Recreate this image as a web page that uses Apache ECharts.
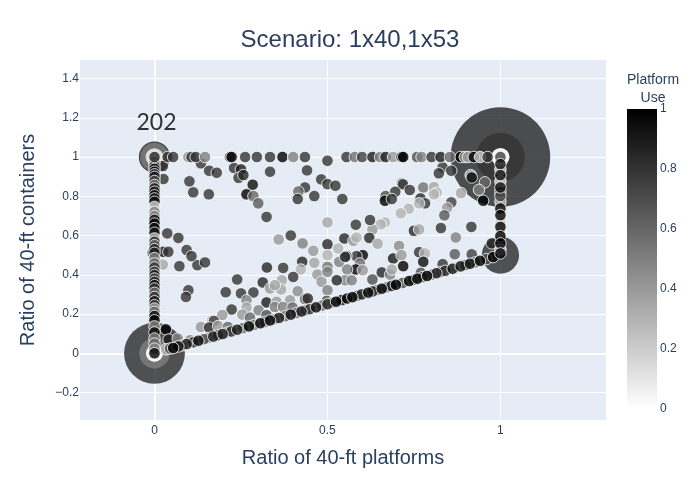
<!DOCTYPE html>
<html><head><meta charset="utf-8">
<style>html,body{margin:0;padding:0;background:#fff}#c{width:700px;height:500px}</style>
<script src="https://cdn.jsdelivr.net/npm/echarts@6/dist/echarts.min.js"></script>
</head><body><div id="c"></div>
<script>
const chartTitle = 'Scenario: 1x40,1x53';
const xTitle = 'Ratio of 40-ft platforms';
const yTitle = 'Ratio of 40-ft containers';
const colorTitle = 'Platform\nUse';
const annotationText = '202';
const xTicks = [0, 0.5, 1];
const yTicks = [-0.2, 0, 0.2, 0.4, 0.6, 0.8, 1, 1.2, 1.4];
// x, y, use, number of coinciding records
const bubbles = [
 [1,1,0.86,75],[1,1,0.8,18],[0,0,0.84,28],[0,0,0.5,7],[1,0.5,0.84,10.5],[0,1,0.9,7.4],[0,1,0.5,6.2],
 [1,1,0,2.5],[1,1,0,2.4],[0,0,0,2.2],[0,0,0,2.1],[0,1,0.03,2.4]
];
// x, y, use
const topEdge = [
 [0.038,1,0.8],[0.054,1,0.8],[0.098,1,0.45],[0.107,1,0.8],[0.119,1,0.8],[0.146,1,0.5],[0.218,1,0.75],[0.223,1,1],
 [0.262,1,0.8],[0.296,1,0.8],[0.334,1,0.8],[0.37,1,1],[0.401,1,0.5],[0.435,1,0.8],[0.555,1,0.8],[0.579,1,0.55],
 [0.6,1,0.75],[0.63,1,0.9],[0.652,1,0.5],[0.668,1,0.9],[0.69,1,0.4],[0.714,1,0.9],[0.719,1,1],[0.759,1,0.7],
 [0.772,1,0.5],[0.801,1,0.8],[0.827,1,0.9],[0.854,1,0.6],[0.885,1,1],[0.897,1,0.4],[0.906,1,0.4],[0.923,1,1],
 [0.941,1,0.2],[0.963,1,0.8]
];
const leftEdge = [
 [0,0.975,0.5],[0,0.954,0.9],[0,0.94,0.95],[0,0.925,0.95],[0,0.912,0.8],[0,0.899,0.9],[0,0.878,0.7],[0,0.857,0.6],[0,0.84,0.9],[0,0.823,0.9],[0,0.805,0.95],[0,0.789,0.9],[0,0.772,0.95],[0,0.746,0.2],
 [0,0.72,0.5],[0,0.699,0.5],[0,0.68,0.95],[0,0.661,1],[0,0.638,0.95],[0,0.614,0.95],[0,0.585,0.3],[0,0.568,0.85],[0,0.551,0.6],[-0.005,0.512,0.9],[0,0.53,0.9],[0,0.512,0.85],[0,0.485,0.5],[0,0.458,0.6],[0,0.437,0.8],[0,0.415,0.75],
 [0,0.398,0.9],[0,0.381,0.7],[0,0.364,0.85],[0,0.347,0.95],[0,0.33,0.8],[0,0.308,0.6],[0,0.287,0.8],[0,0.265,0.9],[0,0.245,0.8],[0,0.228,0.4],[0,0.211,0.6],[0,0.19,0.95],[0,0.168,1],[0,0.137,0.5],[0,0.106,1],
 [0,0.075,0.5],[0,0.049,0.6],[0,0.024,0.5],[0,0,1],[0,1,0.85]
];
const rightEdge = [
 [1,0.936,0.15],[1,0.876,0.15],[1,0.772,0.3],[1,0.665,0.2],[1,0.62,0.15],[1,0.53,0.2],
 [1,0.823,0.7],[1,0.801,0.75],[1,1,0.75],[1,0.964,0.95],[1,0.908,0.95],[1,0.845,0.95],[1,0.738,1],[1,0.704,1],
 [1,0.644,1],[1,0.597,1],[1,0.56,1],[1,0.509,1]
];
const slantEdge = [
 [0.033,0.02,0.3],[0.045,0.024,0.7],[0.054,0.027,1],[0.069,0.035,0.95],[0.08,0.04,0.5],[0.093,0.047,0.9],[0.112,0.056,0.85],[0.127,0.064,0.95],[0.143,0.072,0.7],
 [0.155,0.078,0.5],[0.17,0.085,0.9],[0.184,0.092,0.85],[0.197,0.098,0.9],[0.209,0.105,0.4],[0.222,0.111,0.85],[0.239,0.12,0.9],[0.255,0.128,0.6],[0.273,0.137,1],[0.288,0.144,0.5],[0.306,0.153,1],[0.32,0.16,0.6],[0.334,0.167,1],
 [0.348,0.174,0.5],[0.36,0.18,0.9],[0.378,0.189,0.6],[0.394,0.197,0.95],[0.41,0.205,0.6],[0.425,0.213,0.9],[0.437,0.219,0.7],[0.449,0.225,0.8],[0.467,0.234,0.95],[0.485,0.243,0.6],[0.5,0.25,0.85],[0.513,0.257,0.5],[0.525,0.263,1],
 [0.541,0.271,0.95],[0.557,0.279,1],[0.572,0.286,1],[0.586,0.293,0.7],[0.599,0.3,0.9],[0.618,0.309,0.95],[0.63,0.315,0.9],[0.643,0.322,0.6],[0.657,0.329,1],[0.671,0.336,0.6],
 [0.685,0.343,0.9],[0.698,0.349,1],[0.717,0.358,0.7],[0.736,0.368,1],[0.748,0.374,0.7],[0.76,0.38,1],[0.775,0.388,0.7],[0.788,0.394,1],[0.802,0.401,0.6],[0.815,0.408,0.9],[0.828,0.414,0.6],[0.84,0.42,0.85],
 [0.862,0.431,0.95],[0.885,0.443,0.95],[0.9,0.45,0.7],[0.912,0.456,0.95],[0.927,0.463,0.6],[0.941,0.471,1],[0.96,0.48,0.7],[0.979,0.49,1]
];
const interior = [
 [0.024,0.954,0.85],[0.026,0.888,0.8],[0.101,0.876,0.8],[0.112,0.82,0.8],[0.157,0.81,0.8],[0.134,0.968,0.8],[0.158,0.93,0.8],[0.18,0.92,0.8],
 [0.23,0.944,0.8],[0.25,0.937,0.9],[0.243,0.894,0.8],[0.257,0.908,0.85],[0.284,0.859,0.95],[0.266,0.81,1],[0.286,0.801,0.6],[0.3,0.764,0.65],
 [0.324,0.695,0.8],[0.334,0.925,0.8],[0.441,0.932,0.8],[0.5,0.981,0.8],[0.482,0.886,0.8],[0.5,0.862,0.8],[0.523,0.854,0.8],[0.543,0.786,0.8],
 [0.435,0.845,0.8],[0.416,0.825,0.6],[0.414,0.786,0.8],[0.462,0.801,0.8],[0.5,0.667,0.35],[0.394,0.6,0.8],[0.359,0.58,0.4],[0.037,0.611,0.8],
 [0.069,0.588,0.8],[0.549,0.585,0.85],[0.833,0.947,0.8],[0.822,0.917,0.8],[0.858,0.93,0.8],[0.914,0.908,0.3],[0.917,0.896,1],[0.955,0.871,0.6],
 [0.938,0.833,0.5],[0.886,0.816,0.35],[0.95,0.777,1],[0.714,0.869,0.3],[0.718,0.861,0.85],[0.696,0.823,0.8],[0.738,0.832,0.8],[0.668,0.801,0.7],
 [0.666,0.777,1],[0.686,0.786,0.8],[0.777,0.845,0.55],[0.808,0.847,0.35],[0.816,0.818,0.3],[0.808,0.81,0.3],[0.769,0.789,0.85],[0.782,0.764,0.8],
 [0.765,0.764,0.3],[0.858,0.769,0.75],[0.846,0.741,0.4],[0.838,0.703,0.65],[0.735,0.736,0.3],[0.712,0.713,0.3],[0.666,0.667,0.3],[0.654,0.657,0.3],
 [0.63,0.631,0.4],[0.623,0.679,0.8],[0.582,0.655,0.8],[0.75,0.624,0.85],[0.765,0.631,0.35],[0.828,0.638,0.8],[0.916,0.644,0.8],[0.871,0.59,0.5],
 [0.621,0.588,0.85],[0.575,0.573,0.4],[0.584,0.59,0.3],[0.645,0.558,0.35],[0.707,0.547,0.45],[0.765,0.515,0.8],[0.782,0.509,0.3],[0.868,0.505,0.65],
 [0.917,0.504,0.75],[0.975,0.56,0.85],[0.602,0.5,1],[0.584,0.495,0.8],[0.555,0.496,0.7],[0.69,0.483,0.9],[0.714,0.5,0.4],[0.777,0.466,0.95],
 [0.719,0.444,1],[0.833,0.454,0.8],[0.594,0.458,0.55],[0.582,0.427,1],[0.557,0.427,0.5],[0.602,0.423,0.4],[0.657,0.412,0.85],[0.681,0.401,0.5],
 [0.686,0.427,0.35],[0.63,0.376,0.7],[0.551,0.372,0.5],[0.57,0.372,0.5],[0.77,0.41,0.7],[0.025,0.517,0.9],[0.04,0.517,0.8],[0.024,0.452,0.35],
 [0.072,0.444,0.8],[0.124,0.449,0.8],[0.146,0.463,0.8],[0.093,0.526,0.8],[0.107,0.495,0.8],[0.098,0.321,0.8],[0.091,0.287,0.8],[0.206,0.311,0.8],
 [0.239,0.376,0.8],[0.25,0.305,0.8],[0.286,0.31,0.8],[0.223,0.223,0.8],[0.313,0.361,0.85],[0.325,0.437,0.85],[0.372,0.435,0.8],[0.427,0.466,0.85],
 [0.5,0.555,0.85],[0.428,0.56,0.5],[0.459,0.522,0.4],[0.5,0.5,0.3],[0.462,0.461,0.35],[0.423,0.427,0.3],[0.401,0.389,0.8],[0.471,0.401,0.4],
 [0.483,0.364,0.4],[0.5,0.44,0.55],[0.5,0.415,0.5],[0.534,0.466,0.5],[0.527,0.372,0.85],[0.551,0.491,0.85],[0.531,0.534,0.3],[0.414,0.316,0.45],
 [0.5,0.321,0.5],[0.334,0.33,0.4],[0.368,0.372,0.35],[0.366,0.325,0.35],[0.348,0.347,0.35],[0.266,0.27,0.5],[0.266,0.233,0.35],[0.324,0.259,0.9],
 [0.353,0.262,0.4],[0.392,0.27,0.4],[0.435,0.276,0.6],[0.443,0.279,0.85],[0.301,0.219,0.5],[0.254,0.197,0.4],[0.196,0.195,0.4],[0.167,0.168,0.3],
 [0.172,0.165,0.75],[0.134,0.134,0.4],[0.158,0.131,0.85],[0.184,0.139,0.4],[0.212,0.134,0.6],[0.276,0.182,0.6],[0.348,0.236,0.5],[0.372,0.236,0.5],
 [0.399,0.233,0.6],[0.324,0.194,0.7],[0.498,0.267,0.7],[0.033,0.122,1],[0.041,0.07,0.9],[0.067,0.075,0.5],[0.103,0.066,0.5]
];
const byUse = (a, b) => a[2] - b[2];
const markers = interior.concat(topEdge, slantEdge.slice().sort(byUse), rightEdge, leftEdge);
const textColor = '#2a3f5f';
const font = '"Liberation Sans", Arial, sans-serif';
const chart = echarts.init(document.getElementById('c'), null, {renderer:'canvas'});
chart.setOption({
  animation:false,
  backgroundColor:'#fff',
  title:[
    {text:chartTitle,left:345,top:23,textAlign:'center',textStyle:{fontFamily:font,fontSize:24,fontWeight:'normal',color:textColor}},
    {text:colorTitle,left:648,top:66,textAlign:'center',textStyle:{fontFamily:font,fontSize:14,fontWeight:'normal',color:textColor,lineHeight:18,align:'center'}}
  ],
  grid:[
    {left:80,top:60,width:526,height:360,backgroundColor:'#e5ecf6',show:true,borderWidth:0},
    {left:627,top:109,width:30,height:300,show:false}
  ],
  xAxis:[
    {type:'value',gridIndex:0,min:-0.2153,max:1.3052,
     name:xTitle,nameLocation:'middle',nameGap:28,nameTextStyle:{fontFamily:font,fontSize:20,color:textColor},
     axisLine:{show:true,onZero:true,lineStyle:{color:'#fff',width:2}},axisTick:{show:false,customValues:xTicks},
     axisLabel:{customValues:xTicks,fontFamily:font,fontSize:12,color:textColor,margin:5},
     splitLine:{show:true,lineStyle:{color:'#fff',width:1}}},
    {type:'category',gridIndex:1,show:false,data:['use']}
  ],
  yAxis:[
    {type:'value',gridIndex:0,min:-0.34,max:1.4945,
     name:yTitle,nameLocation:'middle',nameGap:42,nameTextStyle:{fontFamily:font,fontSize:20,color:textColor},
     axisLine:{show:true,onZero:true,lineStyle:{color:'#fff',width:2}},axisTick:{show:false,customValues:yTicks},
     axisLabel:{customValues:yTicks,fontFamily:font,fontSize:12,color:textColor,margin:1,padding:[3,0,0,0],formatter:v=>String(v).replace('-','\u2212')},
     splitLine:{show:true,lineStyle:{color:'#fff',width:1}}},
    {type:'value',gridIndex:1,position:'right',min:0,max:1,interval:0.2,
     axisLine:{show:false},axisTick:{show:false},splitLine:{show:false},
     axisLabel:{fontFamily:font,fontSize:12,color:textColor,margin:3,padding:[3,0,0,0],formatter:v=>String(v)}}
  ],
  visualMap:{type:'continuous',show:false,seriesIndex:[0,1],dimension:2,min:0,max:1,
    inRange:{color:['#ffffff','#000000']}},
  series:[
    {type:'scatter',xAxisIndex:0,yAxisIndex:0,data:bubbles,silent:true,
     symbolSize:v=>11.5*Math.sqrt(v[3]),itemStyle:{opacity:0.8,borderWidth:0}},
    {type:'scatter',xAxisIndex:0,yAxisIndex:0,data:markers,silent:true,
     symbolSize:11.5,itemStyle:{opacity:0.8,borderColor:'#fff',borderWidth:1}},
    {type:'scatter',xAxisIndex:0,yAxisIndex:0,data:[[0,1]],silent:true,symbolSize:0,
     label:{show:true,position:'top',distance:23,offset:[2,0],formatter:annotationText,fontFamily:'Lato',fontSize:23,color:'#000'}},
    {type:'bar',xAxisIndex:1,yAxisIndex:1,data:[1],barWidth:'100%',silent:true,
     itemStyle:{color:new echarts.graphic.LinearGradient(0,0,0,1,[{offset:0,color:'#000'},{offset:1,color:'#fff'}])}}
  ]
});
</script></body></html>
